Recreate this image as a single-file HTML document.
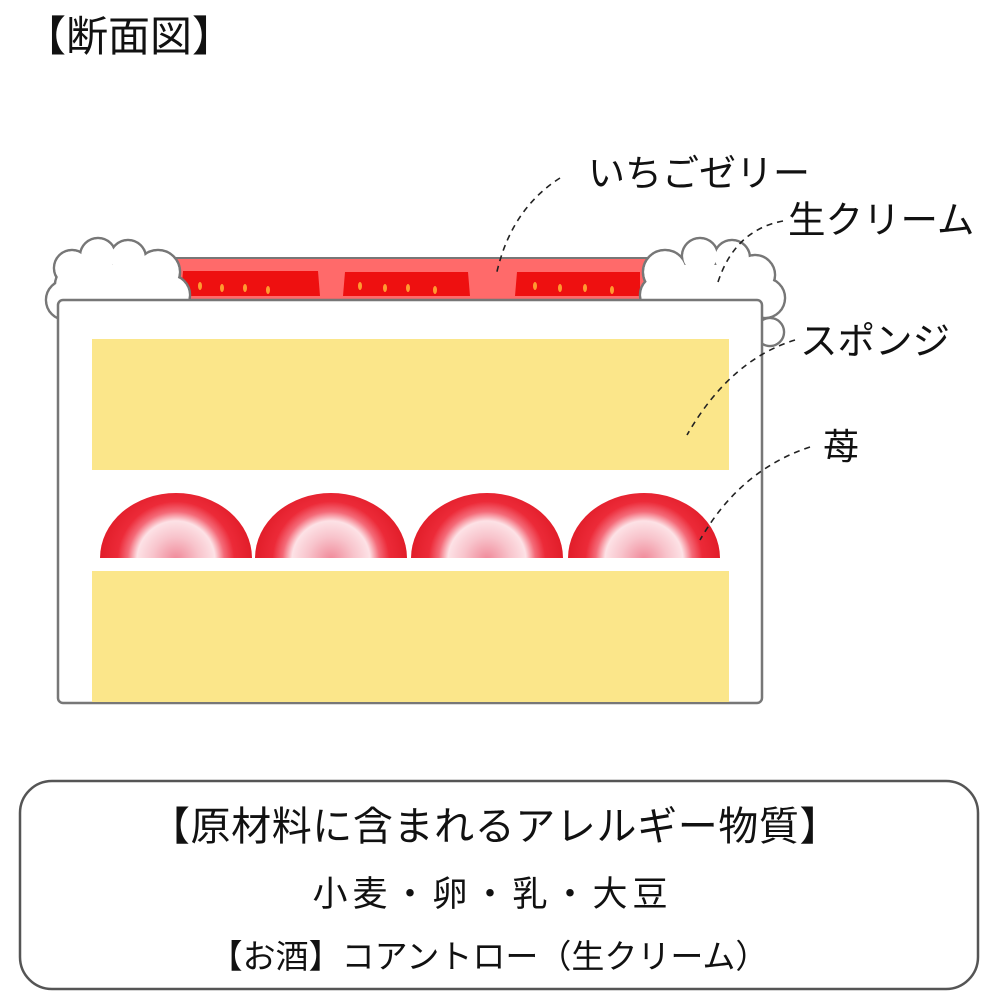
<!DOCTYPE html>
<html><head><meta charset="utf-8"><style>
body{margin:0;width:1000px;height:1000px;background:#fff;overflow:hidden;font-family:"Liberation Sans","Noto Sans CJK JP",sans-serif;}
.t{position:absolute;white-space:nowrap;color:#111;line-height:1;}
</style></head><body>
<svg width="1000" height="1000" style="position:absolute;left:0;top:0">
<defs>
<radialGradient id="g1" gradientUnits="userSpaceOnUse" cx="176" cy="560" r="78">
<stop offset="0" stop-color="#f08898"/><stop offset="0.3" stop-color="#f8c4cc"/><stop offset="0.5" stop-color="#fde2e6"/><stop offset="0.62" stop-color="#f46a78"/><stop offset="0.75" stop-color="#ec2a38"/><stop offset="1" stop-color="#e01c28"/>
</radialGradient>
<radialGradient id="g2" href="#g1" cx="331" fx="331"/>
<radialGradient id="g3" href="#g1" cx="487" fx="487"/>
<radialGradient id="g4" href="#g1" cx="644" fx="644"/>
</defs>
<rect x="170" y="258" width="490" height="44" fill="#ff6a6a" stroke="#777" stroke-width="2"/>
<g fill="#ee1010">
<polygon points="183,271 318,271 320,296 181,296"/>
<polygon points="345,272 468,272 470,296 343,296"/>
<polygon points="517,272 640,272 640,296 515,296"/>
</g>
<g fill="#ff9a30">
<ellipse cx="200" cy="286" rx="2" ry="4"/><ellipse cx="222" cy="288" rx="2" ry="4"/><ellipse cx="245" cy="288" rx="2" ry="4"/><ellipse cx="268" cy="290" rx="2" ry="4"/>
<ellipse cx="360" cy="286" rx="2" ry="4"/><ellipse cx="385" cy="288" rx="2" ry="4"/><ellipse cx="408" cy="288" rx="2" ry="4"/><ellipse cx="435" cy="290" rx="2" ry="4"/>
<ellipse cx="535" cy="286" rx="2" ry="4"/><ellipse cx="560" cy="288" rx="2" ry="4"/><ellipse cx="585" cy="288" rx="2" ry="4"/><ellipse cx="612" cy="290" rx="2" ry="4"/>
</g>
<g fill="#fff" stroke="#777" stroke-width="2.5">
<circle cx="72" cy="268" r="18"/><circle cx="98" cy="256" r="18"/><circle cx="128" cy="258" r="18"/><circle cx="158" cy="272" r="22"/><circle cx="170" cy="295" r="20"/><circle cx="66" cy="300" r="20"/><circle cx="75" cy="285" r="20"/>
<circle cx="665" cy="272" r="22"/><circle cx="700" cy="256" r="18"/><circle cx="732" cy="258" r="18"/><circle cx="755" cy="275" r="20"/><circle cx="765" cy="298" r="20"/><circle cx="660" cy="295" r="20"/><circle cx="770" cy="332" r="14"/>
</g>
<g fill="#fff">
<circle cx="72" cy="268" r="16.8"/><circle cx="98" cy="256" r="16.8"/><circle cx="128" cy="258" r="16.8"/><circle cx="158" cy="272" r="20.8"/><circle cx="170" cy="295" r="18.8"/><circle cx="66" cy="300" r="18.8"/><circle cx="75" cy="285" r="18.8"/><rect x="70" y="265" width="100" height="40"/>
<circle cx="665" cy="272" r="20.8"/><circle cx="700" cy="256" r="16.8"/><circle cx="732" cy="258" r="16.8"/><circle cx="755" cy="275" r="18.8"/><circle cx="765" cy="298" r="18.8"/><circle cx="660" cy="295" r="18.8"/><circle cx="770" cy="332" r="12.8"/><rect x="665" y="265" width="100" height="40"/>
</g>
<rect x="58" y="300" width="704" height="403" rx="5" fill="#fff" stroke="#777" stroke-width="2.5"/>
<rect x="92" y="339" width="637" height="131" fill="#fbe68a"/>
<rect x="92" y="571" width="637" height="131" fill="#fbe68a"/>
<path d="M100,558 A76,65 0 0 1 252,558 Z" fill="url(#g1)"/>
<path d="M255,558 A76,65 0 0 1 407,558 Z" fill="url(#g2)"/>
<path d="M411,558 A76,65 0 0 1 563,558 Z" fill="url(#g3)"/>
<path d="M568,558 A76,65 0 0 1 720,558 Z" fill="url(#g4)"/>
<g fill="none" stroke="#222" stroke-width="1.6" stroke-dasharray="6,5">
<path d="M560,178 Q510,210 496,276"/>
<path d="M783,221 Q735,230 718,282"/>
<path d="M795,340 Q730,360 687,435"/>
<path d="M810,447 Q740,470 700,540"/>
</g>
<rect x="20" y="781" width="958" height="208" rx="32" fill="none" stroke="#555" stroke-width="2.5"/>
</svg>
<div class="t" style="left:24px;top:16px;font-size:42px;">【断面図】</div>
<div class="t" style="left:588px;top:155px;font-size:37px;">いちごゼリー</div>
<div class="t" style="left:788px;top:202px;font-size:37.5px;">生クリーム</div>
<div class="t" style="left:800px;top:323px;font-size:37.5px;">スポンジ</div>
<div class="t" style="left:823px;top:429px;font-size:36px;">苺</div>
<div class="t" style="left:0;width:990px;text-align:center;top:807px;font-size:40px;letter-spacing:0.6px;">【原材料に含まれるアレルギー物質】</div>
<div class="t" style="left:0;width:985px;text-align:center;top:877px;font-size:35px;letter-spacing:5px;">小麦・卵・乳・大豆</div>
<div class="t" style="left:0;width:978px;text-align:center;top:940px;font-size:33px;">【お酒】コアントロー（生クリーム）</div>
</body></html>
